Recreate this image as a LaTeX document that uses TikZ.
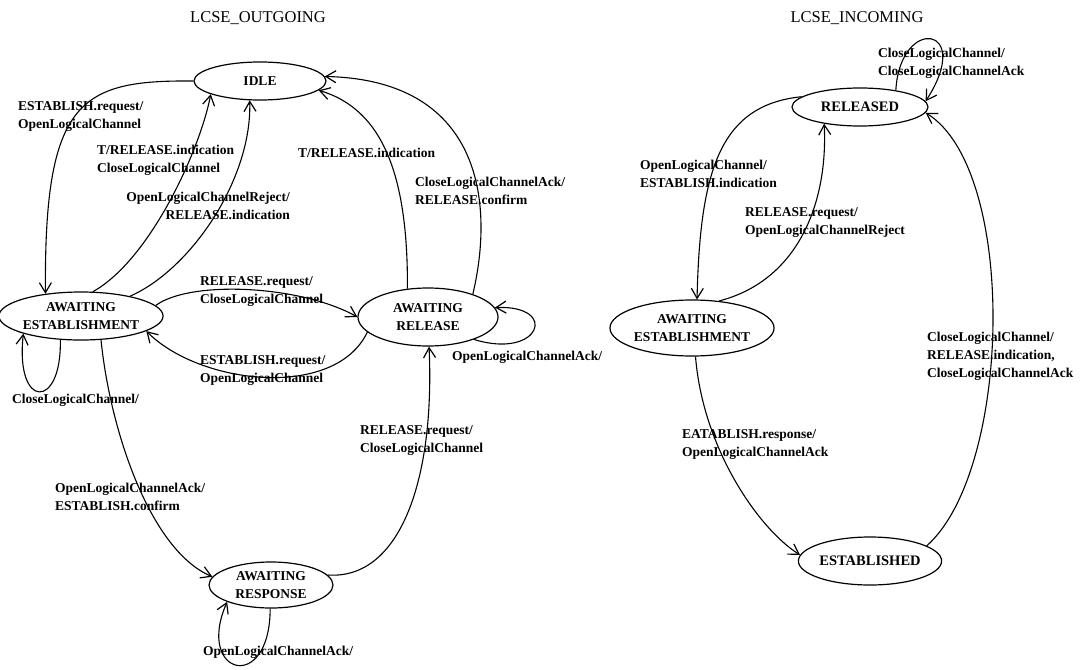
\documentclass[tikz,border=0pt]{standalone}
\usepackage{fontspec}
\setmainfont{Liberation Serif}
\usetikzlibrary{arrows.meta,shapes.geometric}

\tikzset{
  state/.style={draw, ellipse, line width=1.2pt, inner sep=0pt,
    font=\fontsize{13.5}{18}\selectfont\bfseries, align=center},
  bigstate/.style={state, font=\fontsize{14.5}{18}\selectfont\bfseries},
  trans/.style={draw, line width=1.1pt, -{Straight Barb[length=10pt,width=12pt,line width=1.2pt]}},
  lbl/.style={inner sep=0pt, anchor=west, align=left,
    font=\fontsize{13.5}{18}\selectfont\bfseries},
  ttl/.style={inner sep=0pt, font=\fontsize{16.5}{18}\selectfont},
}

\begin{document}
\begin{tikzpicture}[x=1pt,y=-1pt]
\useasboundingbox (0,0) rectangle (1083,669);

% ---------------- outgoing machine ----------------
\node[ttl] (tout) at (258,18) {LCSE\_OUTGOING};

\node[state, minimum width=132pt, minimum height=38pt] (idle) at (260,81) {IDLE};
\node[state, minimum width=138pt, minimum height=48pt] (aest) at (81,316) {AWAITING\\ESTABLISHMENT};
\node[state, minimum width=140pt, minimum height=58pt] (arel) at (428,317) {AWAITING\\RELEASE};
\node[state, minimum width=124pt, minimum height=46pt] (aresp) at (271,585) {AWAITING\\RESPONSE};

\draw[trans] (idle.180) .. controls (80,80) and (44,100) .. (aest.148);
\draw[trans] (aest.64) .. controls (150,260) and (200,150) .. (idle.195);
\draw[trans] (aest.22) .. controls (190,270) and (252,180) .. (idle.242);
\draw[trans] (arel.126) .. controls (408,180) and (385,110) .. (idle.-9);
\draw[trans] (arel.27) .. controls (495,200) and (480,80) .. (idle.4);
\draw[trans] (aest.8) .. controls (190,280) and (300,285) .. (arel.180);
\draw[trans] (arel.194) .. controls (335,400) and (200,385) .. (aest.-13);
\draw[trans] (aest.229) .. controls (62,410) and (15,410) .. (aest.197);
\draw[trans] (aest.-50) .. controls (110,430) and (150,550) .. (aresp.172);
\draw[trans] (aresp.10) .. controls (400,580) and (435,480) .. (arel.-88);
\draw[trans] (aresp.268) .. controls (270,695) and (195,675) .. (aresp.201);
\draw[trans] (arel.-26) .. controls (540,360) and (560,305) .. (arel.8);

\node[lbl] (l1) at (18,117) {ESTABLISH.request/\\OpenLogicalChannel};
\node[lbl] (l2) at (97,160) {T/RELEASE.indication\\CloseLogicalChannel};
\node[lbl, anchor=east, align=right] (l3) at (290,206) {OpenLogicalChannelReject/\\RELEASE.indication};
\node[lbl] (l4) at (298,153) {T/RELEASE.indication};
\node[lbl] (l5) at (415,191) {CloseLogicalChannelAck/\\RELEASE.confirm};
\node[lbl] (l6) at (200,292) {RELEASE.request/\\CloseLogicalChannel};
\node[lbl] (l7) at (200,371) {ESTABLISH.request/\\OpenLogicalChannel};
\node[lbl] (l8) at (12,400) {CloseLogicalChannel/};
\node[lbl] (l9) at (55,497) {OpenLogicalChannelAck/\\ESTABLISH.confirm};
\node[lbl] (l10) at (360,441) {RELEASE.request/\\CloseLogicalChannel};
\node[lbl] (l11) at (452,357) {OpenLogicalChannelAck/};
\node[lbl] (l12) at (203,652) {OpenLogicalChannelAck/};

% ---------------- incoming machine ----------------
\node[ttl] (tin) at (857,18) {LCSE\_INCOMING};

\node[bigstate, minimum width=136pt, minimum height=38pt] (rel) at (860,107) {RELEASED};
\node[state, minimum width=134pt, minimum height=56pt] (aest2) at (692,328) {AWAITING\\ESTABLISHMENT};
\node[bigstate, minimum width=122pt, minimum height=48pt] (est) at (870,561) {ESTABLISHED};

\draw[trans] (rel.170) .. controls (720,105) and (700,170) .. (aest2.80);
\draw[trans] (aest2.45) .. controls (800,280) and (828,200) .. (rel.205);
\draw[trans] (rel.25) .. controls (900,15) and (975,25) .. (rel.5);
\draw[trans] (aest2.-83) .. controls (703,450) and (760,530) .. (est.175);
\draw[trans] (est.15) .. controls (1012,470) and (1018,170) .. (rel.-5);

\node[lbl] (r1) at (640,174) {OpenLogicalChannel/\\ESTABLISH.indication};
\node[lbl] (r2) at (745,223) {RELEASE.request/\\OpenLogicalChannelReject};
\node[lbl] (r3) at (878,63) {CloseLogicalChannel/\\CloseLogicalChannelAck};
\node[lbl] (r4) at (682,445) {EATABLISH.response/\\OpenLogicalChannelAck};
\node[lbl] (r5) at (927,356) {CloseLogicalChannel/\\RELEASE.indication,\\CloseLogicalChannelAck};
\end{tikzpicture}
\end{document}
